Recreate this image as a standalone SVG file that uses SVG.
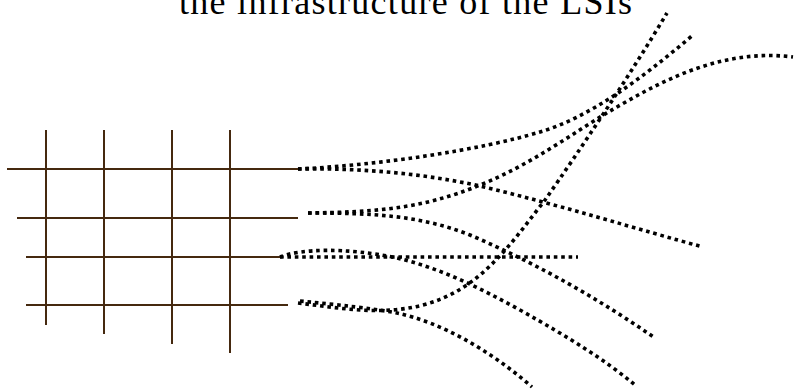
<svg xmlns="http://www.w3.org/2000/svg" width="797" height="389" viewBox="0 0 797 389">
<style>
.title{font-family:"Liberation Serif","Times New Roman",serif;font-size:36px;fill:#000}
.grid line{stroke:#45290f;stroke-width:2}
.dot{fill:none;stroke:#000;stroke-width:3.6;stroke-dasharray:3.6 3.8}
</style>
<rect width="797" height="389" fill="#fff"/>
<text class="title" x="179" y="14" textLength="453" lengthAdjust="spacing">the infrastructure of the LSIs</text>
<g id="grid" class="grid">
<line x1="7" y1="169" x2="298" y2="169"/>
<line x1="17" y1="218" x2="298" y2="218"/>
<line x1="26" y1="257" x2="280" y2="257"/>
<line x1="26" y1="305" x2="288" y2="305"/>
<line x1="46" y1="130" x2="46" y2="325"/>
<line x1="104" y1="130" x2="104" y2="334"/>
<line x1="172" y1="130" x2="172" y2="344"/>
<line x1="230" y1="130" x2="230" y2="353"/>
</g>
<g id="connectors">
<path class="dot" d="M298,169 C380,165 480,150 540,132 C590,117 640,80 693,35"/>
<path class="dot" d="M298,169 C360,168 420,173 480,186 C560,205 640,230 703,247"/>
<path class="dot" d="M308,213 C370,212 420,210 480,185 C530,165 570,135 610,111 C660,82 720,48 793,57"/>
<path class="dot" d="M308,213 C370,213 420,215 470,235 C540,265 600,300 655,338"/>
<path class="dot" d="M280,257 H578"/>
<path class="dot" d="M280,257 C300,249 345,247 397,258 C440,268 480,288 520,310 C570,338 605,360 635,385"/>
<path class="dot" d="M298,303 C340,308 380,316 423,305 C480,290 510,245 545,200 C580,150 630,75 667,13"/>
<path class="dot" d="M300,301 C340,305 370,308 397,313 C440,322 490,350 532,387"/>
</g>
</svg>
